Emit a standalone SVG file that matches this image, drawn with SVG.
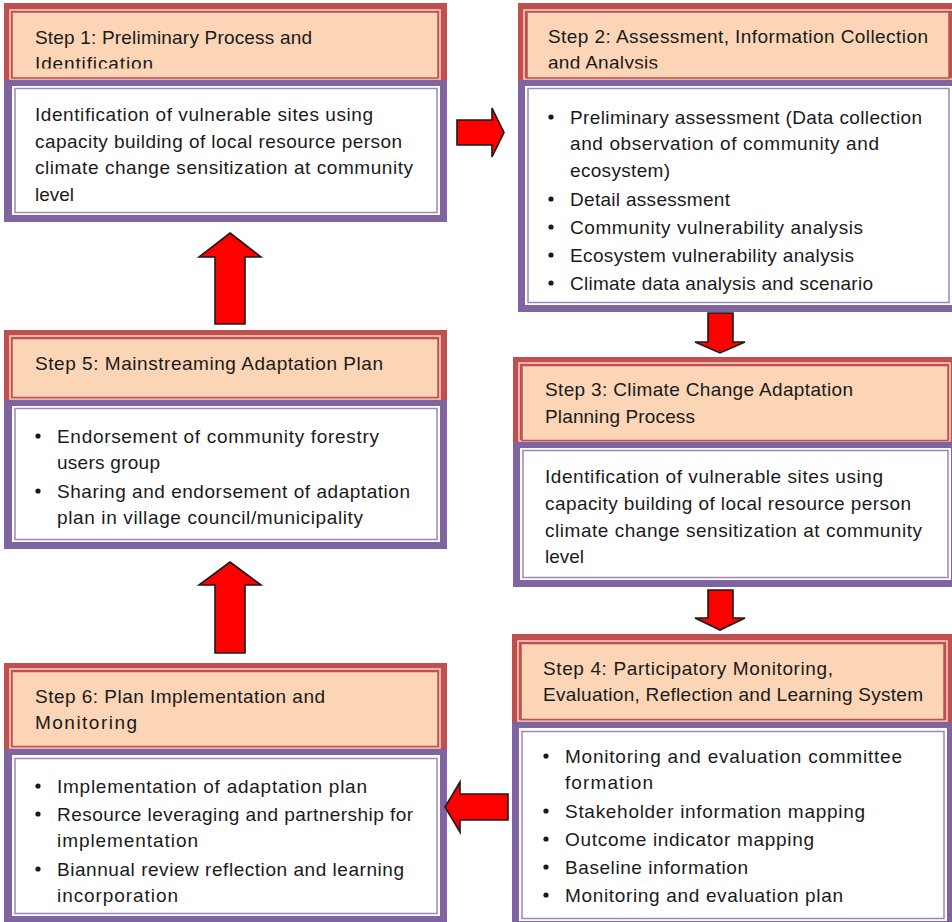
<svg xmlns="http://www.w3.org/2000/svg" width="952" height="922" viewBox="0 0 952 922">
<style>
.hdr{fill:#C0504D}
.hdrHi{fill:none;stroke:#F5D3CB;stroke-width:1.5}
.hdrIn{fill:#FBD5B5;stroke:#C0504D;stroke-width:1.5}
.body{fill:#8064A2}
.bodyW{fill:#FFFFFF}
.bodyIn{fill:#FFFFFF;stroke:#9C86BA;stroke-width:1.5}
text{font-family:"Liberation Sans",Arial,sans-serif;font-size:19px;fill:#1a1a1a}
.dot{fill:#1a1a1a}
.arrow{fill:#FF0000;stroke:#1a1a1a;stroke-width:1.6;stroke-linejoin:miter}
</style>
<defs>
<clipPath id="hdrClip"><rect x="0" y="0" width="952" height="68.5"/></clipPath>
</defs>
<rect x="0" y="0" width="952" height="922" fill="#FFFFFF"/>

<g id="step1">
<rect class="hdr" x="4" y="3" width="443" height="77"/>
<rect class="hdrHi" x="10" y="10" width="430" height="69"/>
<rect class="hdrIn" x="12" y="12" width="426" height="66"/>
<rect class="body" x="4" y="80" width="443" height="142"/>
<rect class="bodyW" x="12" y="86" width="428" height="129"/>
<rect class="bodyIn" x="15" y="88.5" width="422" height="124"/>
<g clip-path="url(#hdrClip)">
<text x="35" y="44" textLength="277">Step 1: Preliminary Process and</text>
<text x="35" y="70" textLength="118">Identification</text>
</g>
<text x="35" y="121" textLength="338">Identification of vulnerable sites using</text>
<text x="35" y="147.5" textLength="367">capacity building of local resource person</text>
<text x="35" y="174" textLength="378">climate change sensitization at community</text>
<text x="35" y="200.5" textLength="39">level</text>
</g>

<g id="step2">
<rect class="hdr" x="518" y="3" width="436" height="77"/>
<rect class="hdrHi" x="524" y="10" width="430" height="69"/>
<rect class="hdrIn" x="527" y="12" width="422" height="66"/>
<rect class="body" x="518" y="80" width="436" height="232"/>
<rect class="bodyW" x="525" y="86" width="427" height="219"/>
<rect class="bodyIn" x="528" y="88.5" width="421" height="214"/>
<g clip-path="url(#hdrClip)">
<text x="548" y="43" textLength="380">Step 2: Assessment, Information Collection</text>
<text x="548" y="69" textLength="110">and Analysis</text>
</g>
<circle class="dot" cx="551" cy="117" r="2.6"/>
<text x="570" y="124" textLength="352">Preliminary assessment (Data collection</text>
<text x="570" y="150" textLength="309">and observation of community and</text>
<text x="570" y="177" textLength="100">ecosystem)</text>
<circle class="dot" cx="551" cy="199" r="2.6"/>
<text x="570" y="206" textLength="160">Detail assessment</text>
<circle class="dot" cx="551" cy="227" r="2.6"/>
<text x="570" y="234" textLength="293">Community vulnerability analysis</text>
<circle class="dot" cx="551" cy="255" r="2.6"/>
<text x="570" y="262" textLength="284">Ecosystem vulnerability analysis</text>
<circle class="dot" cx="551" cy="283" r="2.6"/>
<text x="570" y="290" textLength="303">Climate data analysis and scenario</text>
</g>

<g id="step3">
<rect class="hdr" x="513" y="357" width="441" height="85"/>
<rect class="hdrHi" x="519" y="363" width="431" height="78"/>
<rect class="hdrIn" x="522" y="365.5" width="426" height="75"/>
<rect class="body" x="513" y="442" width="441" height="145"/>
<rect class="bodyW" x="520" y="448" width="431" height="132"/>
<rect class="bodyIn" x="523" y="450.5" width="425" height="127"/>
<text x="545" y="396" textLength="308">Step 3: Climate Change Adaptation</text>
<text x="545" y="423" textLength="150">Planning Process</text>
<text x="545" y="483" textLength="338">Identification of vulnerable sites using</text>
<text x="545" y="510" textLength="366">capacity building of local resource person</text>
<text x="545" y="537" textLength="377">climate change sensitization at community</text>
<text x="545" y="563" textLength="39">level</text>
</g>

<g id="step4">
<rect class="hdr" x="512" y="634" width="442" height="88"/>
<rect class="hdrHi" x="518" y="641" width="429" height="80"/>
<rect class="hdrIn" x="521" y="643.5" width="423" height="76"/>
<rect class="body" x="512" y="722" width="442" height="203"/>
<rect class="bodyW" x="519" y="728" width="428" height="193"/>
<rect class="bodyIn" x="522" y="731.5" width="422" height="187"/>
<text x="543" y="675" textLength="290">Step 4: Participatory Monitoring,</text>
<text x="543" y="701" textLength="380">Evaluation, Reflection and Learning System</text>
<circle class="dot" cx="546" cy="756" r="2.6"/>
<text x="565" y="763" textLength="337">Monitoring and evaluation committee</text>
<text x="565" y="789" textLength="88">formation</text>
<circle class="dot" cx="546" cy="811" r="2.6"/>
<text x="565" y="818" textLength="300">Stakeholder information mapping</text>
<circle class="dot" cx="546" cy="839" r="2.6"/>
<text x="565" y="846" textLength="249">Outcome indicator mapping</text>
<circle class="dot" cx="546" cy="867" r="2.6"/>
<text x="565" y="874" textLength="183">Baseline information</text>
<circle class="dot" cx="546" cy="895" r="2.6"/>
<text x="565" y="902" textLength="278">Monitoring and evaluation plan</text>
</g>

<g id="step5">
<rect class="hdr" x="4" y="330" width="443" height="70"/>
<rect class="hdrHi" x="10" y="336" width="430" height="63"/>
<rect class="hdrIn" x="12" y="338.5" width="426" height="59"/>
<rect class="body" x="4" y="400" width="443" height="149"/>
<rect class="bodyW" x="12" y="406" width="428" height="136"/>
<rect class="bodyIn" x="15" y="408.5" width="422" height="131"/>
<text x="35" y="370" textLength="348">Step 5: Mainstreaming Adaptation Plan</text>
<circle class="dot" cx="38" cy="436" r="2.6"/>
<text x="57" y="443" textLength="322">Endorsement of community forestry</text>
<text x="57" y="469" textLength="103">users group</text>
<circle class="dot" cx="38" cy="491" r="2.6"/>
<text x="57" y="498" textLength="353">Sharing and endorsement of adaptation</text>
<text x="57" y="524" textLength="306">plan in village council/municipality</text>
</g>

<g id="step6">
<rect class="hdr" x="4" y="663" width="443" height="86"/>
<rect class="hdrHi" x="10" y="669" width="430" height="79"/>
<rect class="hdrIn" x="12" y="671.5" width="426" height="75"/>
<rect class="body" x="4" y="749" width="443" height="176"/>
<rect class="bodyW" x="12" y="755" width="428" height="161"/>
<rect class="bodyIn" x="15" y="758.5" width="422" height="155"/>
<text x="35" y="703" textLength="290">Step 6: Plan Implementation and</text>
<text x="35" y="729" textLength="102">Monitoring</text>
<circle class="dot" cx="38" cy="786" r="2.6"/>
<text x="57" y="793" textLength="310">Implementation of adaptation plan</text>
<circle class="dot" cx="38" cy="814" r="2.6"/>
<text x="57" y="821" textLength="356">Resource leveraging and partnership for</text>
<text x="57" y="847" textLength="141">implementation</text>
<circle class="dot" cx="38" cy="869" r="2.6"/>
<text x="57" y="876" textLength="347">Biannual review reflection and learning</text>
<text x="57" y="902" textLength="121">incorporation</text>
</g>

<g id="connectors">
<polygon class="arrow" points="457,120 492,120 492,108 504,132.5 492,157 492,145 457,145"/>
<polygon class="arrow" points="708,313 733,313 733,342 745,342 720,353 695,342 708,342"/>
<polygon class="arrow" points="708,590 733,590 733,618 745,618 720,630 695,618 708,618"/>
<polygon class="arrow" points="508,794 460,794 460,782 445,807 460,832 460,820 508,820"/>
<polygon class="arrow" points="230,562 261,585 245,585 245,653 215,653 215,585 199,585"/>
<polygon class="arrow" points="230,233 261,257 245,257 245,324 215,324 215,257 199,257"/>
</g>
</svg>
